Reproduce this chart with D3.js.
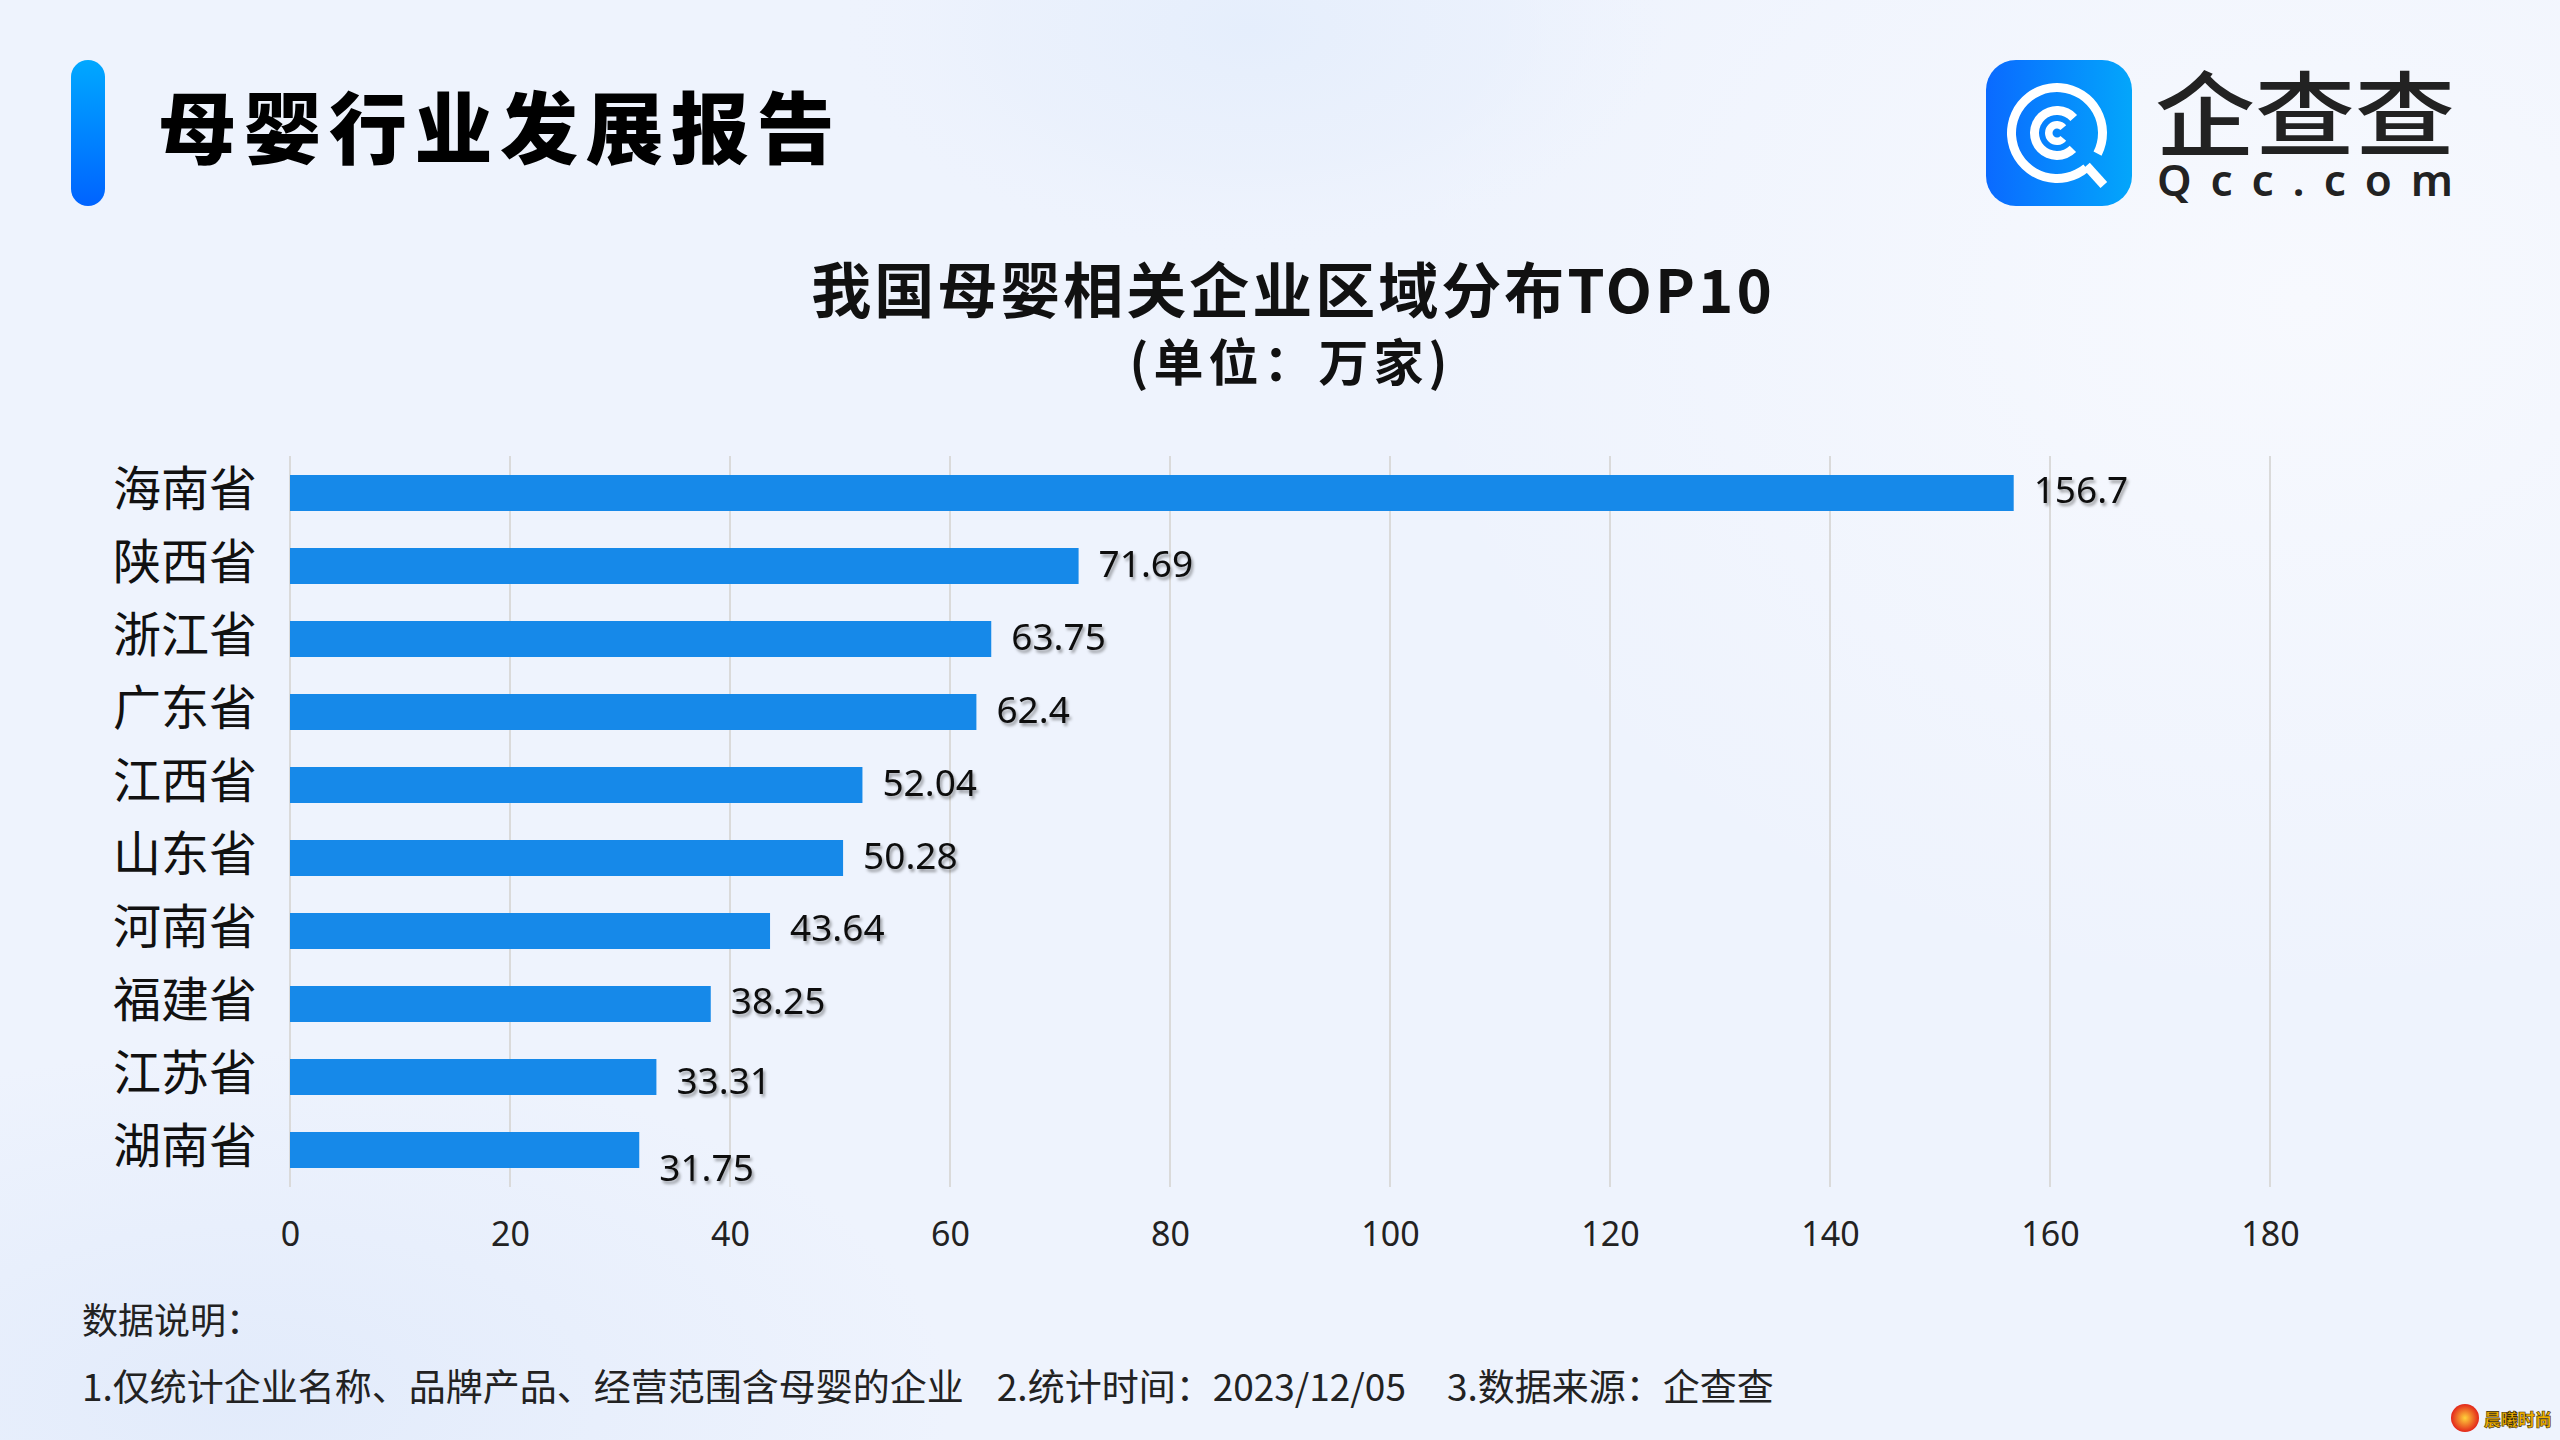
<!DOCTYPE html>
<html>
<head>
<meta charset="utf-8">
<script src="https://cdn.jsdelivr.net/npm/d3@7/dist/d3.min.js"></script>
<style>
html,body{margin:0;padding:0;background:#eff3fd;}
svg{display:block;}
</style>
</head>
<body>
<script>
// ---------- data ----------
const categories = ["海南省","陕西省","浙江省","广东省","江西省","山东省","河南省","福建省","江苏省","湖南省"];
const values = [156.7, 71.69, 63.75, 62.4, 52.04, 50.28, 43.64, 38.25, 33.31, 31.75];
const valueLabels = ["156.7","71.69","63.75","62.4","52.04","50.28","43.64","38.25","33.31","31.75"];
const xTicks = [0,20,40,60,80,100,120,140,160,180];
const headerTitle = "母婴行业发展报告";
const chartTitle = "我国母婴相关企业区域分布TOP10";
const chartSubtitle = "(单位：万家)";
const noteTitle = "数据说明：";
const noteParts = ["1.仅统计企业名称、品牌产品、经营范围含母婴的企业", "2.统计时间：2023/12/05", "3.数据来源：企查查"];

// ---------- layout ----------
const W = 2560, H = 1440;
const svg = d3.select("body").append("svg").attr("width", W).attr("height", H);
const defs = svg.append("defs");

// background
const bgBlob = defs.append("radialGradient").attr("id","blob");
bgBlob.append("stop").attr("offset","0%").attr("stop-color","#e5eefc");
bgBlob.append("stop").attr("offset","60%").attr("stop-color","#e9f0fc").attr("stop-opacity",0.7);
bgBlob.append("stop").attr("offset","100%").attr("stop-color","#eef3fd").attr("stop-opacity",0);
const bgBlob2 = defs.append("radialGradient").attr("id","blob2");
bgBlob2.append("stop").attr("offset","0%").attr("stop-color","#e2ebfb");
bgBlob2.append("stop").attr("offset","100%").attr("stop-color","#e2ebfb").attr("stop-opacity",0);
const bgWhite = defs.append("radialGradient").attr("id","blobW");
bgWhite.append("stop").attr("offset","0%").attr("stop-color","#f7f9fe");
bgWhite.append("stop").attr("offset","100%").attr("stop-color","#f7f9fe").attr("stop-opacity",0);

svg.append("rect").attr("width",W).attr("height",H).attr("fill","#eef3fd");
svg.append("ellipse").attr("cx",2300).attr("cy",300).attr("rx",900).attr("ry",700).attr("fill","url(#blobW)");
svg.append("ellipse").attr("cx",1250).attr("cy",30).attr("rx",420).attr("ry",230).attr("fill","url(#blob)");
svg.append("ellipse").attr("cx",250).attr("cy",1400).attr("rx",700).attr("ry",350).attr("fill","url(#blob2)");

// drop shadow for value labels
const f = defs.append("filter").attr("id","shadow").attr("x","-20%").attr("y","-30%").attr("width","140%").attr("height","160%");
f.append("feDropShadow").attr("dx",2).attr("dy",3).attr("stdDeviation",1.6)
  .attr("flood-color","#000").attr("flood-opacity",0.35);

// ---------- header ----------
const accent = defs.append("linearGradient").attr("id","accent").attr("x1",0).attr("y1",0).attr("x2",0).attr("y2",1);
accent.append("stop").attr("offset","0%").attr("stop-color","#00a8ff");
accent.append("stop").attr("offset","100%").attr("stop-color","#0063ff");
svg.append("rect").attr("x",71).attr("y",60).attr("width",34).attr("height",146).attr("rx",17)
  .attr("fill","url(#accent)");
svg.append("text").attr("x",158).attr("y",124)
  .attr("dominant-baseline","central")
  .style("font-family","'Noto Sans CJK SC'").style("font-weight",900)
  .style("font-size","78px").style("letter-spacing","7.5px").attr("fill","#000")
  .text(headerTitle);

// ---------- logo ----------
const lg = defs.append("linearGradient").attr("id","logoGrad").attr("x1",0).attr("y1",0).attr("x2",1).attr("y2",0);
lg.append("stop").attr("offset","0%").attr("stop-color","#0a6aff");
lg.append("stop").attr("offset","100%").attr("stop-color","#03a6fb");
const logo = svg.append("g");
logo.append("rect").attr("x",1986).attr("y",60).attr("width",146).attr("height",146).attr("rx",30)
  .attr("fill","url(#logoGrad)");
const lc = logo.append("g").attr("transform","translate(2057,133)");
const deg = Math.PI/180;
lc.append("path").attr("d", d3.arc()({innerRadius:41,outerRadius:50,startAngle:140*deg,endAngle:477*deg})).attr("fill","#fff");
lc.append("path").attr("d", d3.arc()({innerRadius:18,outerRadius:27,startAngle:135*deg,endAngle:408*deg})).attr("fill","#fff");
lc.append("path").attr("d", d3.arc()({innerRadius:4.5,outerRadius:12,startAngle:130*deg,endAngle:410*deg})).attr("fill","#fff");
const ta = 138*deg;
lc.append("line")
  .attr("x1", Math.sin(ta)*44).attr("y1", -Math.cos(ta)*44)
  .attr("x2", Math.sin(ta)*70).attr("y2", -Math.cos(ta)*70)
  .attr("stroke","#fff").attr("stroke-width",9);
logo.append("text").attr("x",2155).attr("y",108).attr("dominant-baseline","central")
  .attr("textLength",300).attr("lengthAdjust","spacingAndGlyphs")
  .style("font-family","'Noto Sans CJK SC'").style("font-weight",500).style("font-size","92px")
  .attr("fill","#222").text("企查查");
logo.append("text").attr("x",2157).attr("y",196)
  .attr("textLength",296).attr("lengthAdjust","spacing")
  .style("font-family","'Noto Sans'").style("font-weight",600).style("font-size","44px")
  .attr("fill","#222").text("Qcc.com");

// ---------- titles ----------
svg.append("text").attr("x",1293).attr("y",286).attr("text-anchor","middle").attr("dominant-baseline","central")
  .style("font-family","'Noto Sans CJK SC'").style("font-weight",700).style("font-size","60px")
  .style("letter-spacing","3px").attr("fill","#111").text(chartTitle);
svg.append("text").attr("x",1291).attr("y",359).attr("text-anchor","middle").attr("dominant-baseline","central")
  .style("font-family","'Noto Sans CJK SC'").style("font-weight",700).style("font-size","50px")
  .style("letter-spacing","5px").attr("fill","#111").text(chartSubtitle);

// ---------- chart ----------
const x = d3.scaleLinear().domain([0,180]).range([290,2270]);
const y = d3.scaleBand().domain(categories).range([456.5,1186.5]).paddingInner(0.507).paddingOuter(0.2535);
const gridTop = 456, gridBottom = 1187;

const grid = svg.append("g");
grid.selectAll("line").data(xTicks).join("line")
  .attr("x1",d=>x(d)).attr("x2",d=>x(d)).attr("y1",gridTop).attr("y2",gridBottom)
  .attr("stroke","#dadada").attr("stroke-width",2);

const xAxis = svg.append("g").attr("transform",`translate(0,${gridBottom})`)
  .call(d3.axisBottom(x).tickValues(xTicks).tickSize(0).tickPadding(0).tickFormat(d3.format("d")));
xAxis.select(".domain").remove();
xAxis.selectAll("text").attr("y",47).attr("dy","0.35em")
  .style("font-family","'Noto Sans'").style("font-size","34px").attr("fill","#222");

const yAxis = svg.append("g").attr("transform","translate(257,0)")
  .call(d3.axisLeft(y).tickSize(0).tickPadding(0));
yAxis.select(".domain").remove();
yAxis.selectAll("text").attr("x",0).attr("dy","0.33em").attr("y",-3)
  .style("font-family","'Noto Sans CJK SC'").style("font-size","48px").attr("fill","#111");

svg.append("g").selectAll("rect").data(values).join("rect")
  .attr("x",x(0)).attr("y",(d,i)=>y(categories[i]))
  .attr("width",d=>x(d)-x(0)).attr("height",y.bandwidth())
  .attr("fill","#1689e9");

const labelNudge = [-3,-2,-2,-2,-2,-2,-3,-3,4,18];
svg.append("g").selectAll("text").data(values).join("text")
  .attr("x",d=>x(d)+20)
  .attr("y",(d,i)=>y(categories[i])+y.bandwidth()/2+labelNudge[i])
  .attr("dy","0.35em")
  .attr("filter","url(#shadow)")
  .style("font-family","'Noto Sans'").style("font-size","37px").attr("fill","#111")
  .text((d,i)=>valueLabels[i]);

// ---------- notes ----------
svg.append("text").attr("x",82).attr("y",1318).attr("dominant-baseline","central")
  .style("font-family","'Noto Sans CJK SC'").style("font-size","36px").attr("fill","#222").text(noteTitle);
const noteGaps = [0, 33, 41];
let nx = 82;
noteParts.forEach((t,i)=>{
  nx += noteGaps[i];
  const el = svg.append("text").attr("x",nx).attr("y",1385).attr("dominant-baseline","central")
    .style("font-family","'Noto Sans CJK SC'").style("font-size","37px").attr("fill","#222").text(t);
  nx += el.node().getComputedTextLength();
});

// ---------- watermark ----------
const wmg = defs.append("radialGradient").attr("id","wm");
wmg.append("stop").attr("offset","0%").attr("stop-color","#ffd23a");
wmg.append("stop").attr("offset","100%").attr("stop-color","#e3261b");
svg.append("circle").attr("cx",2465).attr("cy",1418).attr("r",14).attr("fill","url(#wm)");
svg.append("text").attr("x",2484).attr("y",1418).attr("dominant-baseline","central")
  .attr("textLength",68).attr("lengthAdjust","spacingAndGlyphs")
  .style("font-family","'Noto Sans CJK SC'").style("font-weight",900).style("font-size","17px")
  .attr("fill","#f0b000").attr("stroke","#3a2a00").attr("stroke-width",0.6).text("晨曦时尚");
</script>
</body>
</html>
